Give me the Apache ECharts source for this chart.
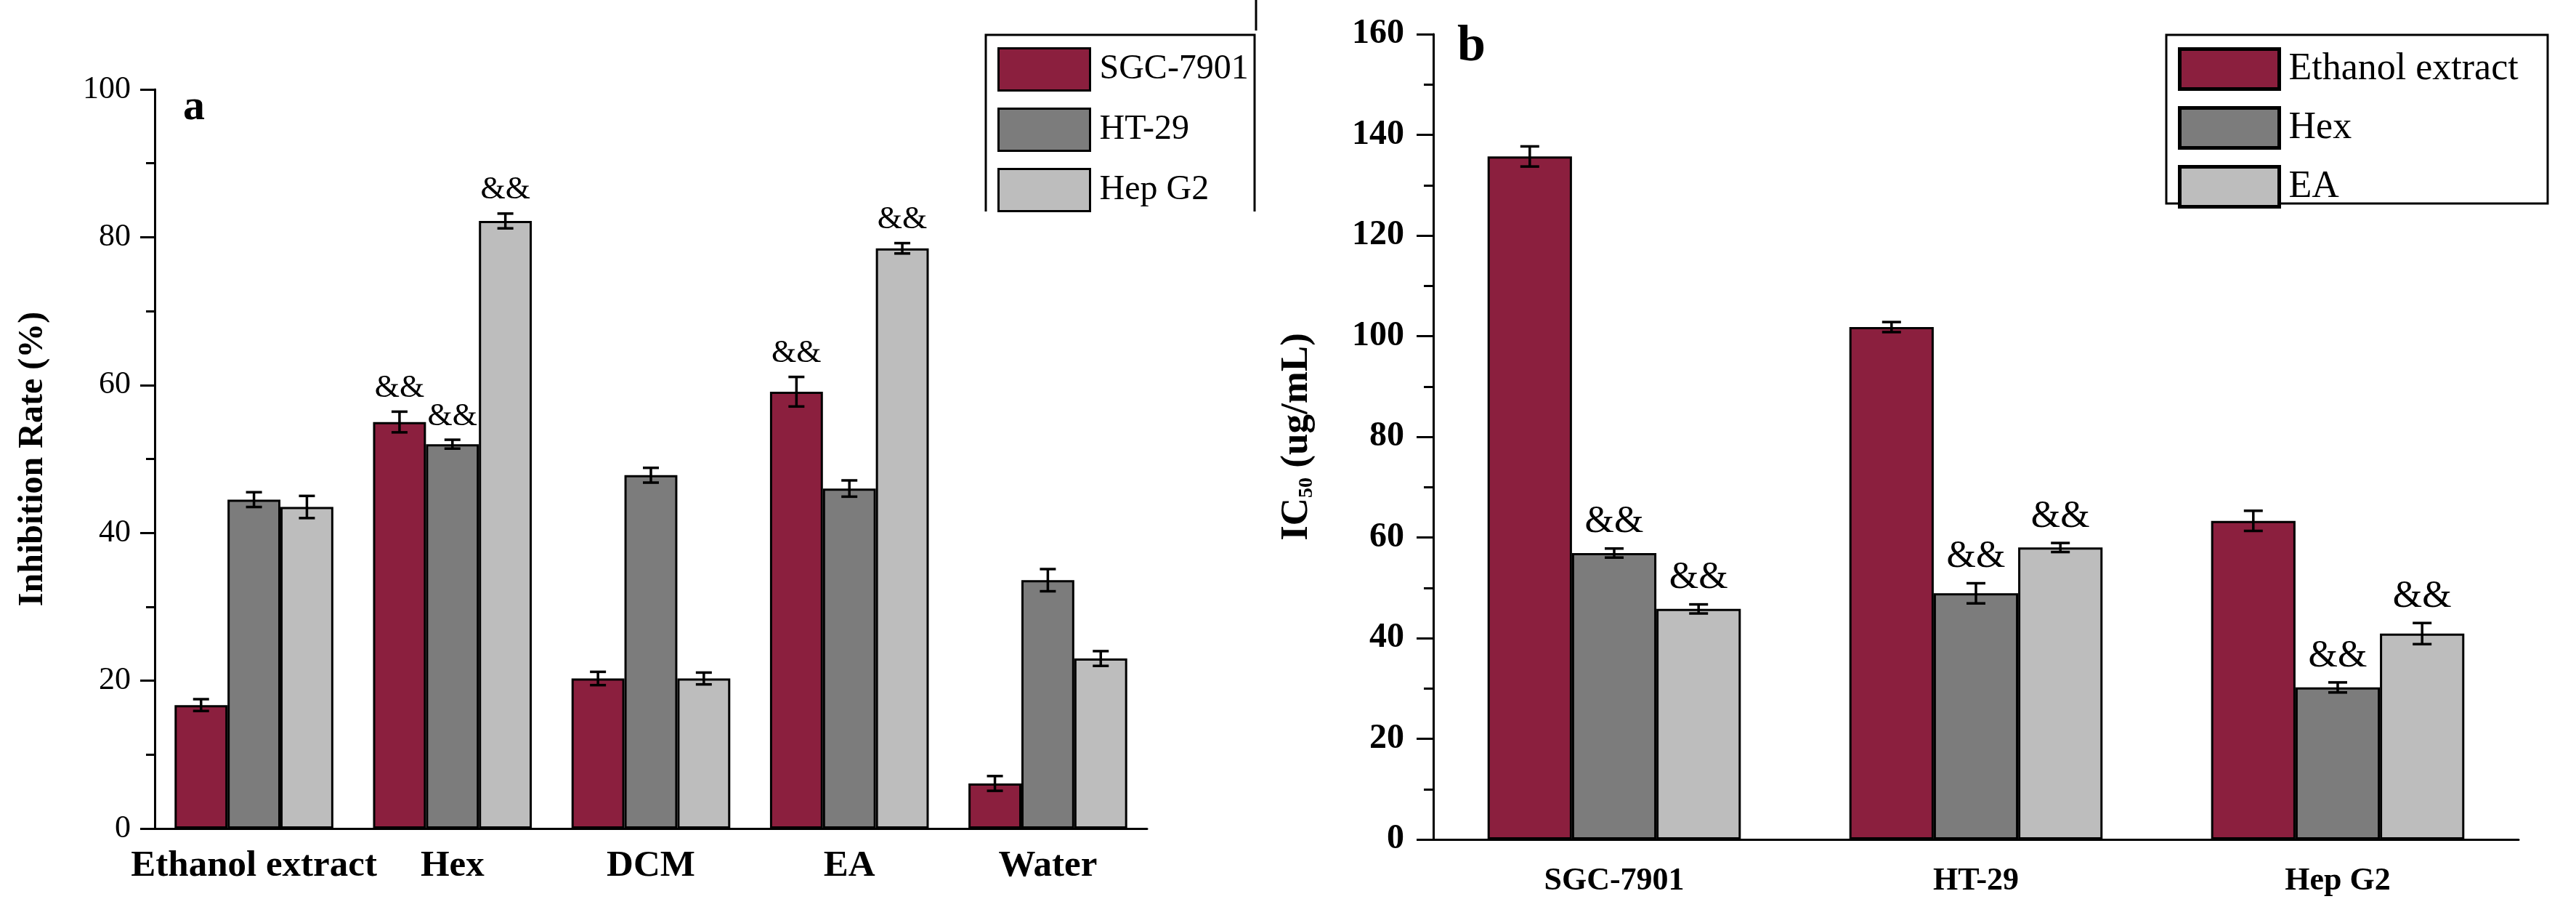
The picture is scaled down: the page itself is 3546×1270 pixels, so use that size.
<!DOCTYPE html>
<html lang="en">
<head>
    <meta charset="UTF-8">
    <title>inhibition / IC50</title>
    <script src="https://cdn.jsdelivr.net/npm/echarts/dist/echarts.min.js"></script>
    <style>
        html, body { margin: 0; padding: 0; background: #fff; }
        #main { width: 3546px; height: 1270px; }
    </style>
</head>
<body>
<div id="main"></div>
<script type="text/javascript">
    // panel a: inhibition rate (%)
    const catsA = ['Ethanol extract', 'Hex', 'DCM', 'EA', 'Water'];
    const sgcRate = [16.7, 55.0, 20.3, 59.1, 6.1];
    const sgcErr = [0.8, 1.4, 0.9, 2.0, 1.0];
    const sgcMark = ['', '&&', '', '&&', ''];
    const htRate = [44.5, 52.0, 47.8, 46.0, 33.6];
    const htErr = [1.0, 0.6, 1.0, 1.1, 1.5];
    const htMark = ['', '&&', '', '', ''];
    const hepRate = [43.5, 82.2, 20.3, 78.5, 23.0];
    const hepErr = [1.5, 1.0, 0.8, 0.7, 1.0];
    const hepMark = ['', '&&', '', '&&', ''];

    // panel b: IC50 (ug/mL)
    const catsB = ['SGC-7901', 'HT-29', 'Hep G2'];
    const ethIC = [135.7, 101.8, 63.3];
    const ethErr = [2.0, 1.0, 2.0];
    const ethMark = ['', '', ''];
    const hexIC = [56.9, 48.9, 30.2];
    const hexErr = [0.9, 2.0, 1.0];
    const hexMark = ['&&', '&&', '&&'];
    const eaIC = [45.8, 58.0, 40.9];
    const eaErr = [0.9, 0.9, 2.1];
    const eaMark = ['&&', '&&', '&&'];

    const RED = '#8b1f3e', DARK = '#7c7c7c', LIGHT = '#bdbdbd';
    const FONT = '"Liberation Serif", "Times New Roman", serif';

    function barSeries(name, xi, yi, vals, color, gap) {
        return {
            name: name, type: 'bar', xAxisIndex: xi, yAxisIndex: yi,
            data: vals, barGap: '0%', barCategoryGap: gap,
            itemStyle: { color: color, borderColor: '#000', borderWidth: 3 }
        };
    }

    // error bars + "&&" marks, placed on the k-th bar of each group
    function errSeries(name, xi, yi, vals, errs, marks, k, gap, cap, fs) {
        return {
            name: name, type: 'custom', xAxisIndex: xi, yAxisIndex: yi, z: 5, silent: true,
            data: vals.map((v, i) => [i, v, errs[i]]),
            renderItem: function (params, api) {
                const i = api.value(0), v = api.value(1), e = api.value(2);
                const band = api.size([1, 0])[0];
                const bw = band * (1 - gap) / 3;
                const x = api.coord([i, v])[0] + (k - 1) * bw;
                const top = api.coord([i, v + e])[1];
                const bot = api.coord([i, v - e])[1];
                const st = { stroke: '#000', lineWidth: 3.5 };
                const kids = [
                    { type: 'line', shape: { x1: x, y1: top, x2: x, y2: bot }, style: st },
                    { type: 'line', shape: { x1: x - cap, y1: top, x2: x + cap, y2: top }, style: st },
                    { type: 'line', shape: { x1: x - cap, y1: bot, x2: x + cap, y2: bot }, style: st }
                ];
                const m = marks[params.dataIndex];
                if (m) {
                    kids.push({
                        type: 'text', x: x, y: top - 10,
                        style: { text: m, fill: '#000', fontSize: fs, fontFamily: FONT, align: 'center', verticalAlign: 'bottom' }
                    });
                }
                return { type: 'group', children: kids };
            }
        };
    }

    function mainX(grid, cats, fs, margin, tickLen) {
        return {
            type: 'category', gridIndex: grid, data: cats, position: 'bottom',
            axisLine: { lineStyle: { color: '#000', width: 3 } },
            axisTick: { alignWithLabel: true, interval: 0, length: tickLen, lineStyle: { color: '#000', width: 3 } },
            axisLabel: { interval: 0, margin: margin, color: '#000', fontSize: fs, fontWeight: 'bold', fontFamily: FONT },
            splitLine: { show: false }
        };
    }

    function edgeX(grid, cats, tickLen) {
        return {
            type: 'category', gridIndex: grid, data: cats, position: 'bottom',
            axisLine: { show: false },
            axisTick: { interval: 0, length: tickLen, lineStyle: { color: '#000', width: 3 } },
            axisLabel: { show: false },
            splitLine: { show: false }
        };
    }

    function init() {
        let myChart = echarts.init(document.getElementById('main'));
        const option = {
            animation: false,
            backgroundColor: '#fff',
            grid: [
                { left: 213, top: 123, width: 1366, height: 1017 },
                { left: 1973, top: 47, width: 1494, height: 1108 }
            ],
            legend: [
                {
                    data: ['SGC-7901', 'HT-29', 'Hep G2'],
                    orient: 'vertical', left: 1368, top: 60, icon: 'rect',
                    itemWidth: 126, itemHeight: 58, itemGap: 22,
                    itemStyle: { borderColor: '#000', borderWidth: 3 },
                    textStyle: { fontSize: 48, fontFamily: FONT, color: '#000', padding: [0, 0, 0, 8] }
                },
                {
                    data: ['Ethanol extract', 'Hex', 'EA'],
                    orient: 'vertical', left: 2993, top: 60, icon: 'rect',
                    itemWidth: 137, itemHeight: 55, itemGap: 21,
                    itemStyle: { borderColor: '#000', borderWidth: 5 },
                    textStyle: { fontSize: 52, fontFamily: FONT, color: '#000', padding: [0, 0, 0, 8] }
                }
            ],
            xAxis: [
                mainX(0, catsA, 51, 26, 20),
                edgeX(0, catsA, 12),
                mainX(1, catsB, 44, 36, 23),
                edgeX(1, catsB, 15)
            ],
            yAxis: [
                {
                    type: 'value', gridIndex: 0, min: 0, max: 100, interval: 20,
                    name: 'Inhibition Rate (%)', nameLocation: 'middle', nameGap: 143,
                    nameTextStyle: { fontSize: 48, fontWeight: 'bold', fontFamily: FONT, color: '#000' },
                    axisLine: { show: true, lineStyle: { color: '#000', width: 3 } },
                    axisTick: { show: true, length: 20, lineStyle: { color: '#000', width: 3 } },
                    minorTick: { show: true, splitNumber: 2, length: 12, lineStyle: { color: '#000', width: 3 } },
                    axisLabel: { margin: 33, color: '#000', fontSize: 44, fontFamily: FONT },
                    splitLine: { show: false }
                },
                {
                    type: 'value', gridIndex: 1, min: 0, max: 160, interval: 20,
                    name: '{m|IC}{s|50}{m| (ug/mL)}', nameLocation: 'middle', nameGap: 160,
                    nameTextStyle: {
                        color: '#000',
                        rich: {
                            m: { fontSize: 53, fontWeight: 'bold', fontFamily: FONT, lineHeight: 56, color: '#000' },
                            s: { fontSize: 28, fontWeight: 'bold', fontFamily: FONT, lineHeight: 22, verticalAlign: 'bottom', color: '#000' }
                        }
                    },
                    axisLine: { show: true, lineStyle: { color: '#000', width: 3 } },
                    axisTick: { show: true, length: 23, lineStyle: { color: '#000', width: 3 } },
                    minorTick: { show: true, splitNumber: 2, length: 13, lineStyle: { color: '#000', width: 3 } },
                    axisLabel: { margin: 40, color: '#000', fontSize: 48, fontWeight: 'bold', fontFamily: FONT },
                    splitLine: { show: false }
                }
            ],
            graphic: [
                { type: 'text', left: 252, top: 118, style: { text: 'a', fontSize: 60, fontWeight: 'bold', fontFamily: FONT, fill: '#000' } },
                { type: 'text', left: 2006, top: 30, style: { text: 'b', fontSize: 70, fontWeight: 'bold', fontFamily: FONT, fill: '#000' } },
                { type: 'polyline', shape: { points: [[1357, 291], [1357, 48], [1727, 48], [1727, 291]] }, style: { stroke: '#000', lineWidth: 3, fill: null } },
                { type: 'line', shape: { x1: 1729, y1: 0, x2: 1729, y2: 42 }, style: { stroke: '#000', lineWidth: 3 } },
                { type: 'rect', shape: { x: 2982, y: 48, width: 525, height: 232 }, style: { stroke: '#000', lineWidth: 3, fill: null } }
            ],
            series: [
                barSeries('SGC-7901', 0, 0, sgcRate, RED, '20%'),
                barSeries('HT-29', 0, 0, htRate, DARK, '20%'),
                barSeries('Hep G2', 0, 0, hepRate, LIGHT, '20%'),
                errSeries('errSGC', 0, 0, sgcRate, sgcErr, sgcMark, 0, 0.2, 11, 44),
                errSeries('errHT', 0, 0, htRate, htErr, htMark, 1, 0.2, 11, 44),
                errSeries('errHep', 0, 0, hepRate, hepErr, hepMark, 2, 0.2, 11, 44),
                barSeries('Ethanol extract', 2, 1, ethIC, RED, '30%'),
                barSeries('Hex', 2, 1, hexIC, DARK, '30%'),
                barSeries('EA', 2, 1, eaIC, LIGHT, '30%'),
                errSeries('errEth', 2, 1, ethIC, ethErr, ethMark, 0, 0.3, 13, 52),
                errSeries('errHex', 2, 1, hexIC, hexErr, hexMark, 1, 0.3, 13, 52),
                errSeries('errEA', 2, 1, eaIC, eaErr, eaMark, 2, 0.3, 13, 52)
            ]
        };
        myChart.setOption(option);
    }
    init();
</script>
</body>
</html>
